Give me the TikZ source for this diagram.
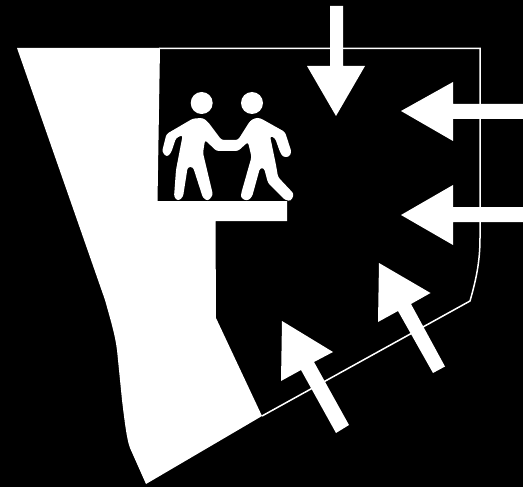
\documentclass[tikz,border=0pt]{standalone}
\begin{document}
\begin{tikzpicture}[x=1pt,y=-1pt,
  solid white/.style={fill=white,draw=none},
  outline/.style={draw=white,line width=1.5pt,line join=miter}]
\fill[black] (0,0) rectangle (523,487);
\useasboundingbox (0,0) rectangle (523,487);
% outline of the hull
\draw[outline] (262,416) -- (470,301) .. controls (476,280) and (480,262) .. (480,238) -- (480,48.5) -- (159,48.5);
% solid wall and ledge
\fill[solid white] (17,48) -- (160,48) -- (157.5,201) -- (287,201) -- (287,221) -- (215.5,221) -- (216,318) -- (262,416) -- (146,484) -- (130,448)
  .. controls (127,440) and (125,425) .. (122,400) -- (117,350) .. controls (115,335) and (112,325) .. (105,300) -- cycle;
% arrows
\fill[solid white] (330,6) -- (343,6) -- (343,66) -- (365,66) -- (336,116) -- (307,66) -- (330,66) -- cycle;
\fill[solid white] (523,104) -- (453,104) -- (453,82) -- (401,111) -- (453,141) -- (453,119) -- (523,119) -- cycle;
\fill[solid white] (523,207) -- (453,207) -- (453,185) -- (401,215) -- (453,245) -- (453,222) -- (523,222) -- cycle;
\fill[solid white] (379,263) -- (430.5,293) -- (411,304) -- (445,366.5) -- (433,373) -- (398,311) -- (378,322) -- cycle;
\fill[solid white] (282,321) -- (333,352) -- (314,362) -- (349,425) -- (336,433) -- (301,370) -- (281,381) -- cycle;
% people
\fill[solid white] (201.7,103) circle (11);
\fill[solid white] (252,103) circle (11);
\fill[solid white,rounded corners=2.5pt]
 (166.5,134) -- (193,118.5) -- (203,118) -- (208,122) -- (221.5,140) -- (238,140) -- (250,121) -- (255,118) -- (260,118) -- (285,132)
 -- (291.5,152) -- (289,157) -- (283,157) -- (280,152) -- (275,138) -- (270,136) -- (276,165) -- (278,177) -- (294,194)
 -- (291,201) -- (285,200) -- (268,183) -- (264,168) -- (260,168) -- (252,197) -- (247,201) -- (241,198) -- (241,194)
 -- (251.5,157) -- (248,142) -- (238,151) -- (216.5,151) -- (205,140) -- (203,153) -- (213,195) -- (208,201) -- (203,198)
 -- (193,167) -- (187.7,167) -- (183,197) -- (178,201) -- (174,197) -- (176,170) -- (182.7,135) -- (176,138) -- (171,153) -- (166.7,157) -- (162,151.7) -- cycle;
\end{tikzpicture}
\end{document}
